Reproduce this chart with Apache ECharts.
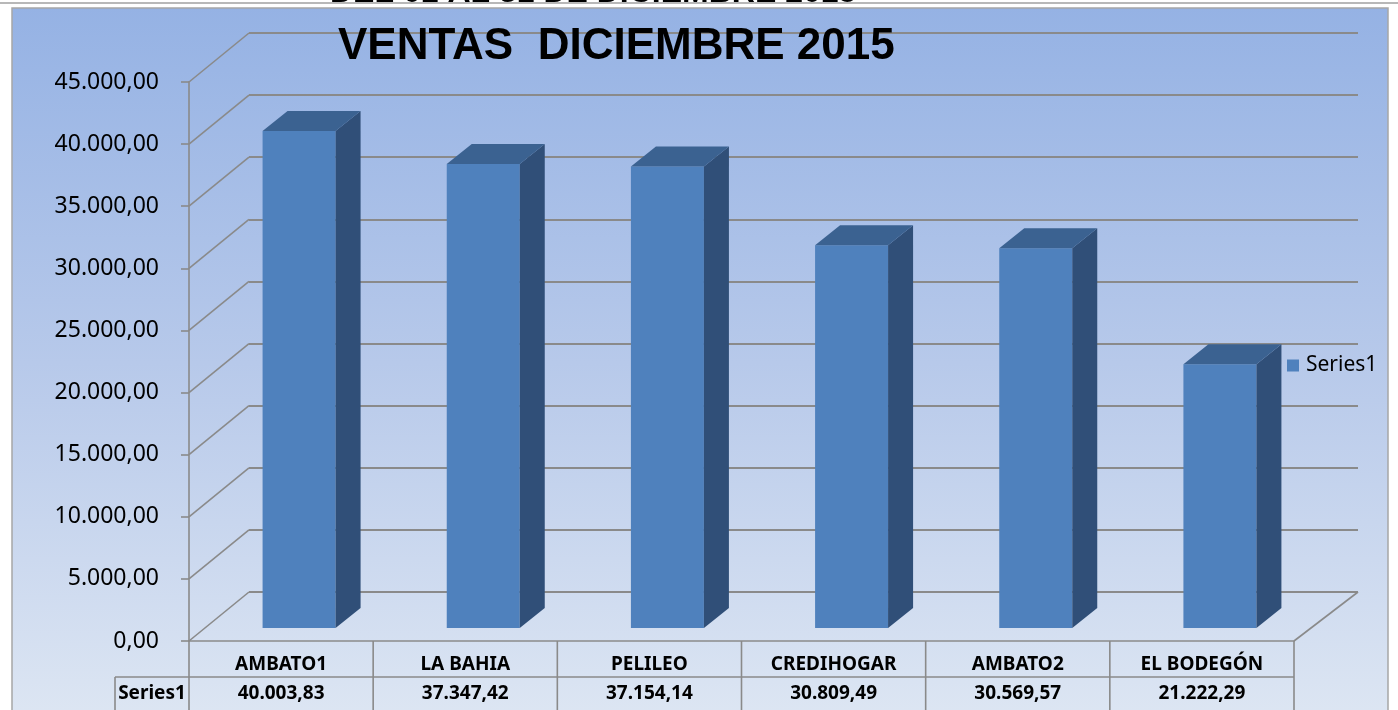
<!DOCTYPE html>
<html>
<head>
<meta charset="utf-8">
<script src="https://cdn.jsdelivr.net/npm/echarts@6/dist/echarts.min.js"></script>
<style>
html,body{margin:0;padding:0;background:#fff;}
#c{width:1398px;height:710px;}
</style>
</head>
<body>
<div id="c"></div>
<script>
// ---- data ----
const categories = ['AMBATO1', 'LA BAHIA', 'PELILEO', 'CREDIHOGAR', 'AMBATO2', 'EL BODEGÓN'];
const seriesName = 'Series1';
const values = [40003.83, 37347.42, 37154.14, 30809.49, 30569.57, 21222.29];
const yTicks = [0, 5000, 10000, 15000, 20000, 25000, 30000, 35000, 40000, 45000];
const titleText = 'VENTAS  DICIEMBRE 2015';
const hiddenTitle = 'DEL 01 AL 31 DE DICIEMBRE 2015';

// ---- style ----
const FRONT = '#4f81bd', SIDE = '#304f78', TOP = '#3b6291';
const GRIDC = '#8a8a8a';
const BW = 73, FX = 18, FY = -13, DX = 25, DY = -20;   // bar geometry (style)
const WX = 60, WY = -49;                                 // depth of floor/wall
const FONT = '"Noto Sans", "Open Sans", sans-serif';
const TITLEFONT = '"Liberation Sans", Arial, sans-serif';

function fmt(v) {
  const p = v.toFixed(2).split('.');
  return p[0].replace(/\B(?=(\d{3})+(?!\d))/g, '.') + ',' + p[1];
}

const chart = echarts.init(document.getElementById('c'), null, {renderer: 'canvas'});

function renderBar(params, api) {
  const t = api.coord([api.value(0), api.value(1)]);
  const b = api.coord([api.value(0), 0]);
  const x0 = t[0] + FX - BW / 2, x1 = x0 + BW;
  const yT = t[1] + FY, yB = b[1] + FY;
  return {
    type: 'group',
    children: [
      {type: 'rect', shape: {x: x0, y: yT, width: BW, height: yB - yT}, style: {fill: FRONT}},
      {type: 'polygon', shape: {points: [[x1, yB], [x1 + DX, yB + DY], [x1 + DX, yT + DY], [x1, yT]]}, style: {fill: SIDE}},
      {type: 'polygon', shape: {points: [[x0, yT], [x0 + DX, yT + DY], [x1 + DX, yT + DY], [x1, yT]]}, style: {fill: TOP}}
    ]
  };
}

function renderFrame(params, api) {
  const cs = params.coordSys;
  const y = api.coord([0, api.value(1)])[1];
  const ch = [{type: 'line', shape: {x1: cs.x, y1: y, x2: cs.x + WX, y2: y + WY}, style: {stroke: GRIDC, lineWidth: 1.6}}];
  if (api.value(1) === 0) {
    const xr = cs.x + cs.width;
    ch.push({type: 'line', shape: {x1: xr, y1: y, x2: xr + 64, y2: y + WY}, style: {stroke: GRIDC, lineWidth: 1.6}});
  }
  return {type: 'group', children: ch};
}

function renderTable(params, api) {
  const i = params.dataIndex;
  const c = api.coord([api.value(0), 0]);
  const bw = api.size([1, 0])[0];
  const xl = c[0] - bw / 2, xr = c[0] + bw / 2, y0 = c[1];
  const ls = {stroke: GRIDC, lineWidth: 1.6};
  const ch = [
    {type: 'line', shape: {x1: xl, y1: y0, x2: xl, y2: y0 + 80}, style: ls},
    {type: 'line', shape: {x1: xl, y1: y0 + 36, x2: xr, y2: y0 + 36}, style: ls},
    {type: 'text', style: {text: categories[i], x: c[0], y: y0 + 24, align: 'center', verticalAlign: 'middle',
      font: 'bold 19px ' + FONT, fill: '#000'}},
    {type: 'text', style: {text: fmt(api.value(1)), x: c[0], y: y0 + 53, align: 'center', verticalAlign: 'middle',
      font: 'bold 19px ' + FONT, fill: '#000'}}
  ];
  if (i === categories.length - 1) {
    ch.push({type: 'line', shape: {x1: xr, y1: y0, x2: xr, y2: y0 + 80}, style: ls});
  }
  if (i === 0) {
    const xs = xl - 74;
    ch.push({type: 'line', shape: {x1: xs, y1: y0 + 36, x2: xl, y2: y0 + 36}, style: ls});
    ch.push({type: 'line', shape: {x1: xs, y1: y0 + 36, x2: xs, y2: y0 + 80}, style: ls});
    ch.push({type: 'text', style: {text: seriesName, x: (xs + xl) / 2, y: y0 + 53, align: 'center', verticalAlign: 'middle',
      font: 'bold 19px ' + FONT, fill: '#000'}});
  }
  return {type: 'group', children: ch};
}

const option = {
  animation: false,
  backgroundColor: '#ffffff',
  title: {
    text: titleText,
    left: 333, top: 20,
    textStyle: {fontFamily: TITLEFONT, fontWeight: 'bold', fontSize: 44, color: '#000'}
  },
  legend: {
    data: [{name: seriesName, icon: 'rect', itemStyle: {color: FRONT}}],
    left: 1282, top: 350, orient: 'vertical',
    itemWidth: 12, itemHeight: 12, itemGap: 6,
    textStyle: {fontFamily: FONT, fontSize: 21, color: '#000', padding: [0, 0, 0, 2]},
    selectedMode: false
  },
  graphic: {
    elements: [
      {type: 'rect', z: -100, silent: true,
        shape: {x: 12, y: 8, width: 1376, height: 710},
        style: {fill: new echarts.graphic.LinearGradient(0, 0, 0, 1, [
          {offset: 0, color: '#95b2e4'}, {offset: 0.5, color: '#b7c9ea'}, {offset: 1, color: '#dde6f3'}]),
          stroke: '#a6a6a6', lineWidth: 1.5}},
      {type: 'line', z: -99, silent: true, shape: {x1: 0, y1: 3, x2: 1398, y2: 3}, style: {stroke: '#a0a0a0', lineWidth: 1.5}},
      {type: 'text', z: 10, silent: true,
        style: {text: hiddenTitle, x: 330, y: -7, align: 'left', verticalAlign: 'middle',
          font: 'bold 32px ' + TITLEFONT, fill: '#000'}}
    ]
  },
  grid: [
    {left: 189, right: 104, top: 82, bottom: 69},
    {left: 249, right: 40, top: 33, bottom: 118}
  ],
  xAxis: [
    {type: 'category', gridIndex: 0, data: categories, boundaryGap: true,
      axisLine: {show: true, lineStyle: {color: GRIDC, width: 1.6}},
      axisTick: {show: false}, axisLabel: {show: false}, splitLine: {show: false}},
    {type: 'category', gridIndex: 1, data: categories, show: false}
  ],
  yAxis: [
    {type: 'value', gridIndex: 0, min: 0, max: 45000, interval: 5000,
      axisLine: {show: true, lineStyle: {color: GRIDC, width: 1.6}},
      axisTick: {show: true, length: 8, lineStyle: {color: GRIDC, width: 1.6}},
      splitLine: {show: false},
      axisLabel: {margin: 30, fontFamily: FONT, fontSize: 23, color: '#000', padding: [8, 0, 0, 0],
        formatter: v => fmt(v)}},
    {type: 'value', gridIndex: 1, min: 0, max: 45000, interval: 5000,
      axisLine: {show: false}, axisTick: {show: false}, axisLabel: {show: false},
      splitLine: {show: true, lineStyle: {color: GRIDC, width: 2.2}}}
  ],
  series: [
    {name: 'frame', type: 'custom', xAxisIndex: 0, yAxisIndex: 0, silent: true, clip: false, z: 1,
      renderItem: renderFrame, data: yTicks.map(v => [0, v])},
    {name: seriesName, type: 'custom', xAxisIndex: 0, yAxisIndex: 0, silent: true, clip: false, z: 3,
      itemStyle: {color: FRONT},
      renderItem: renderBar, data: values.map((v, i) => [i, v])},
    {name: 'tabla', type: 'custom', xAxisIndex: 0, yAxisIndex: 0, silent: true, clip: false, z: 2,
      renderItem: renderTable, data: values.map((v, i) => [i, v])}
  ]
};
chart.setOption(option);
</script>
</body>
</html>
